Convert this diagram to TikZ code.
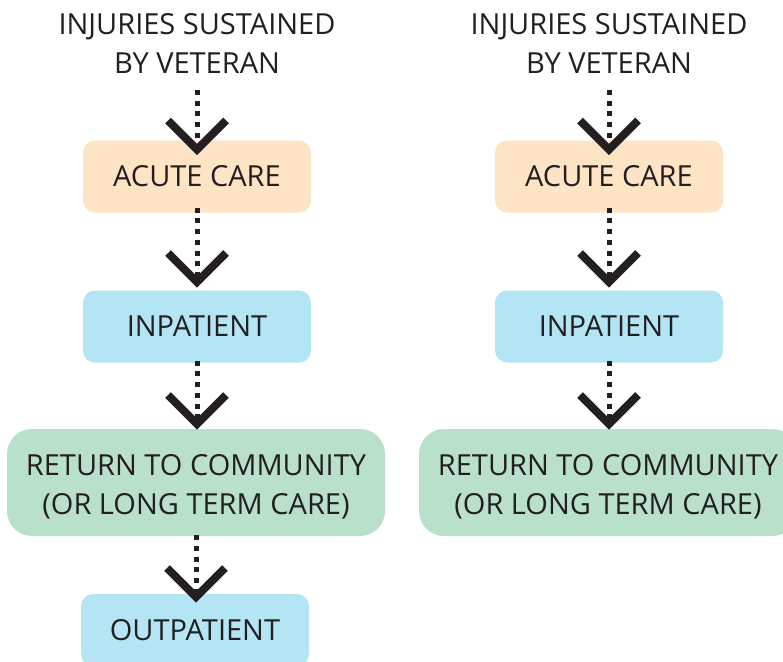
\documentclass[tikz,border=0pt]{standalone}
\usepackage{fontspec}
\setmainfont{Open Sans}
\definecolor{ink}{HTML}{231F20}
\definecolor{peach}{HTML}{FCE4C4}
\definecolor{sky}{HTML}{B3E5F5}
\definecolor{mint}{HTML}{B9E0CB}
\tikzset{
  txt/.style={font=\fontsize{29}{39}\selectfont, text=ink, align=center, inner sep=0pt},
  box/.style={txt, rounded corners=12pt, minimum width=228pt, minimum height=72pt},
  bigbox/.style={rounded corners=25pt, minimum width=378pt, minimum height=107pt, inner sep=0pt},
  dotline/.style={draw=ink, line width=5pt, dash pattern=on 5pt off 5.7pt},
  chev/.style={draw=ink, line width=8pt, miter limit=10},
}
\newcommand{\chevron}[1]{\draw[chev] ($(#1)+(-29,-29)$) -- (#1) -- ($(#1)+(29,-29)$);}
\usetikzlibrary{calc}
\begin{document}
\begin{tikzpicture}[x=1pt,y=-1pt]
\useasboundingbox (0,0) rectangle (783,661);
% left column
\node[txt] (t1) at (197,43) {INJURIES SUSTAINED\\BY VETERAN};
\node[box, fill=peach] (a1) at (197,176.5) {ACUTE CARE};
\node[box, fill=sky] (i1) at (197,326.5) {INPATIENT};
\node[bigbox, fill=mint] (r1) at (196,482.5) {};
\node[txt] (r1t) at (196,487) {RETURN TO COMMUNITY\\(OR LONG TERM CARE)};
\node[box, fill=sky] (o1) at (195,630) {OUTPATIENT};
% right column
\node[txt] (t2) at (609,43) {INJURIES SUSTAINED\\BY VETERAN};
\node[box, fill=peach] (a2) at (609,176.5) {ACUTE CARE};
\node[box, fill=sky] (i2) at (609,326.5) {INPATIENT};
\node[bigbox, fill=mint] (r2) at (608,482.5) {};
\node[txt] (r2t) at (608,487) {RETURN TO COMMUNITY\\(OR LONG TERM CARE)};
% tips
\coordinate (p1) at (197,149.5);
\coordinate (p2) at (197,282);
\coordinate (p3) at (197,424);
\coordinate (p4) at (196,597);
\coordinate (q1) at (609,149.5);
\coordinate (q2) at (609,282);
\coordinate (q3) at (609,424);
% connectors
\draw[dotline] (t1.south |- 0,90) -- (p1);
\draw[dotline] ([yshift=5pt]a1.south) -- (p2);
\draw[dotline] ([yshift=2pt]i1.south) -- (p3);
\draw[dotline] ([yshift=1pt]r1.south) -- (p4);
\draw[dotline] (t2.south |- 0,90) -- (q1);
\draw[dotline] ([yshift=5pt]a2.south) -- (q2);
\draw[dotline] ([yshift=2pt]i2.south) -- (q3);
\chevron{p1}\chevron{p2}\chevron{p3}\chevron{p4}
\chevron{q1}\chevron{q2}\chevron{q3}
\end{tikzpicture}
\end{document}
